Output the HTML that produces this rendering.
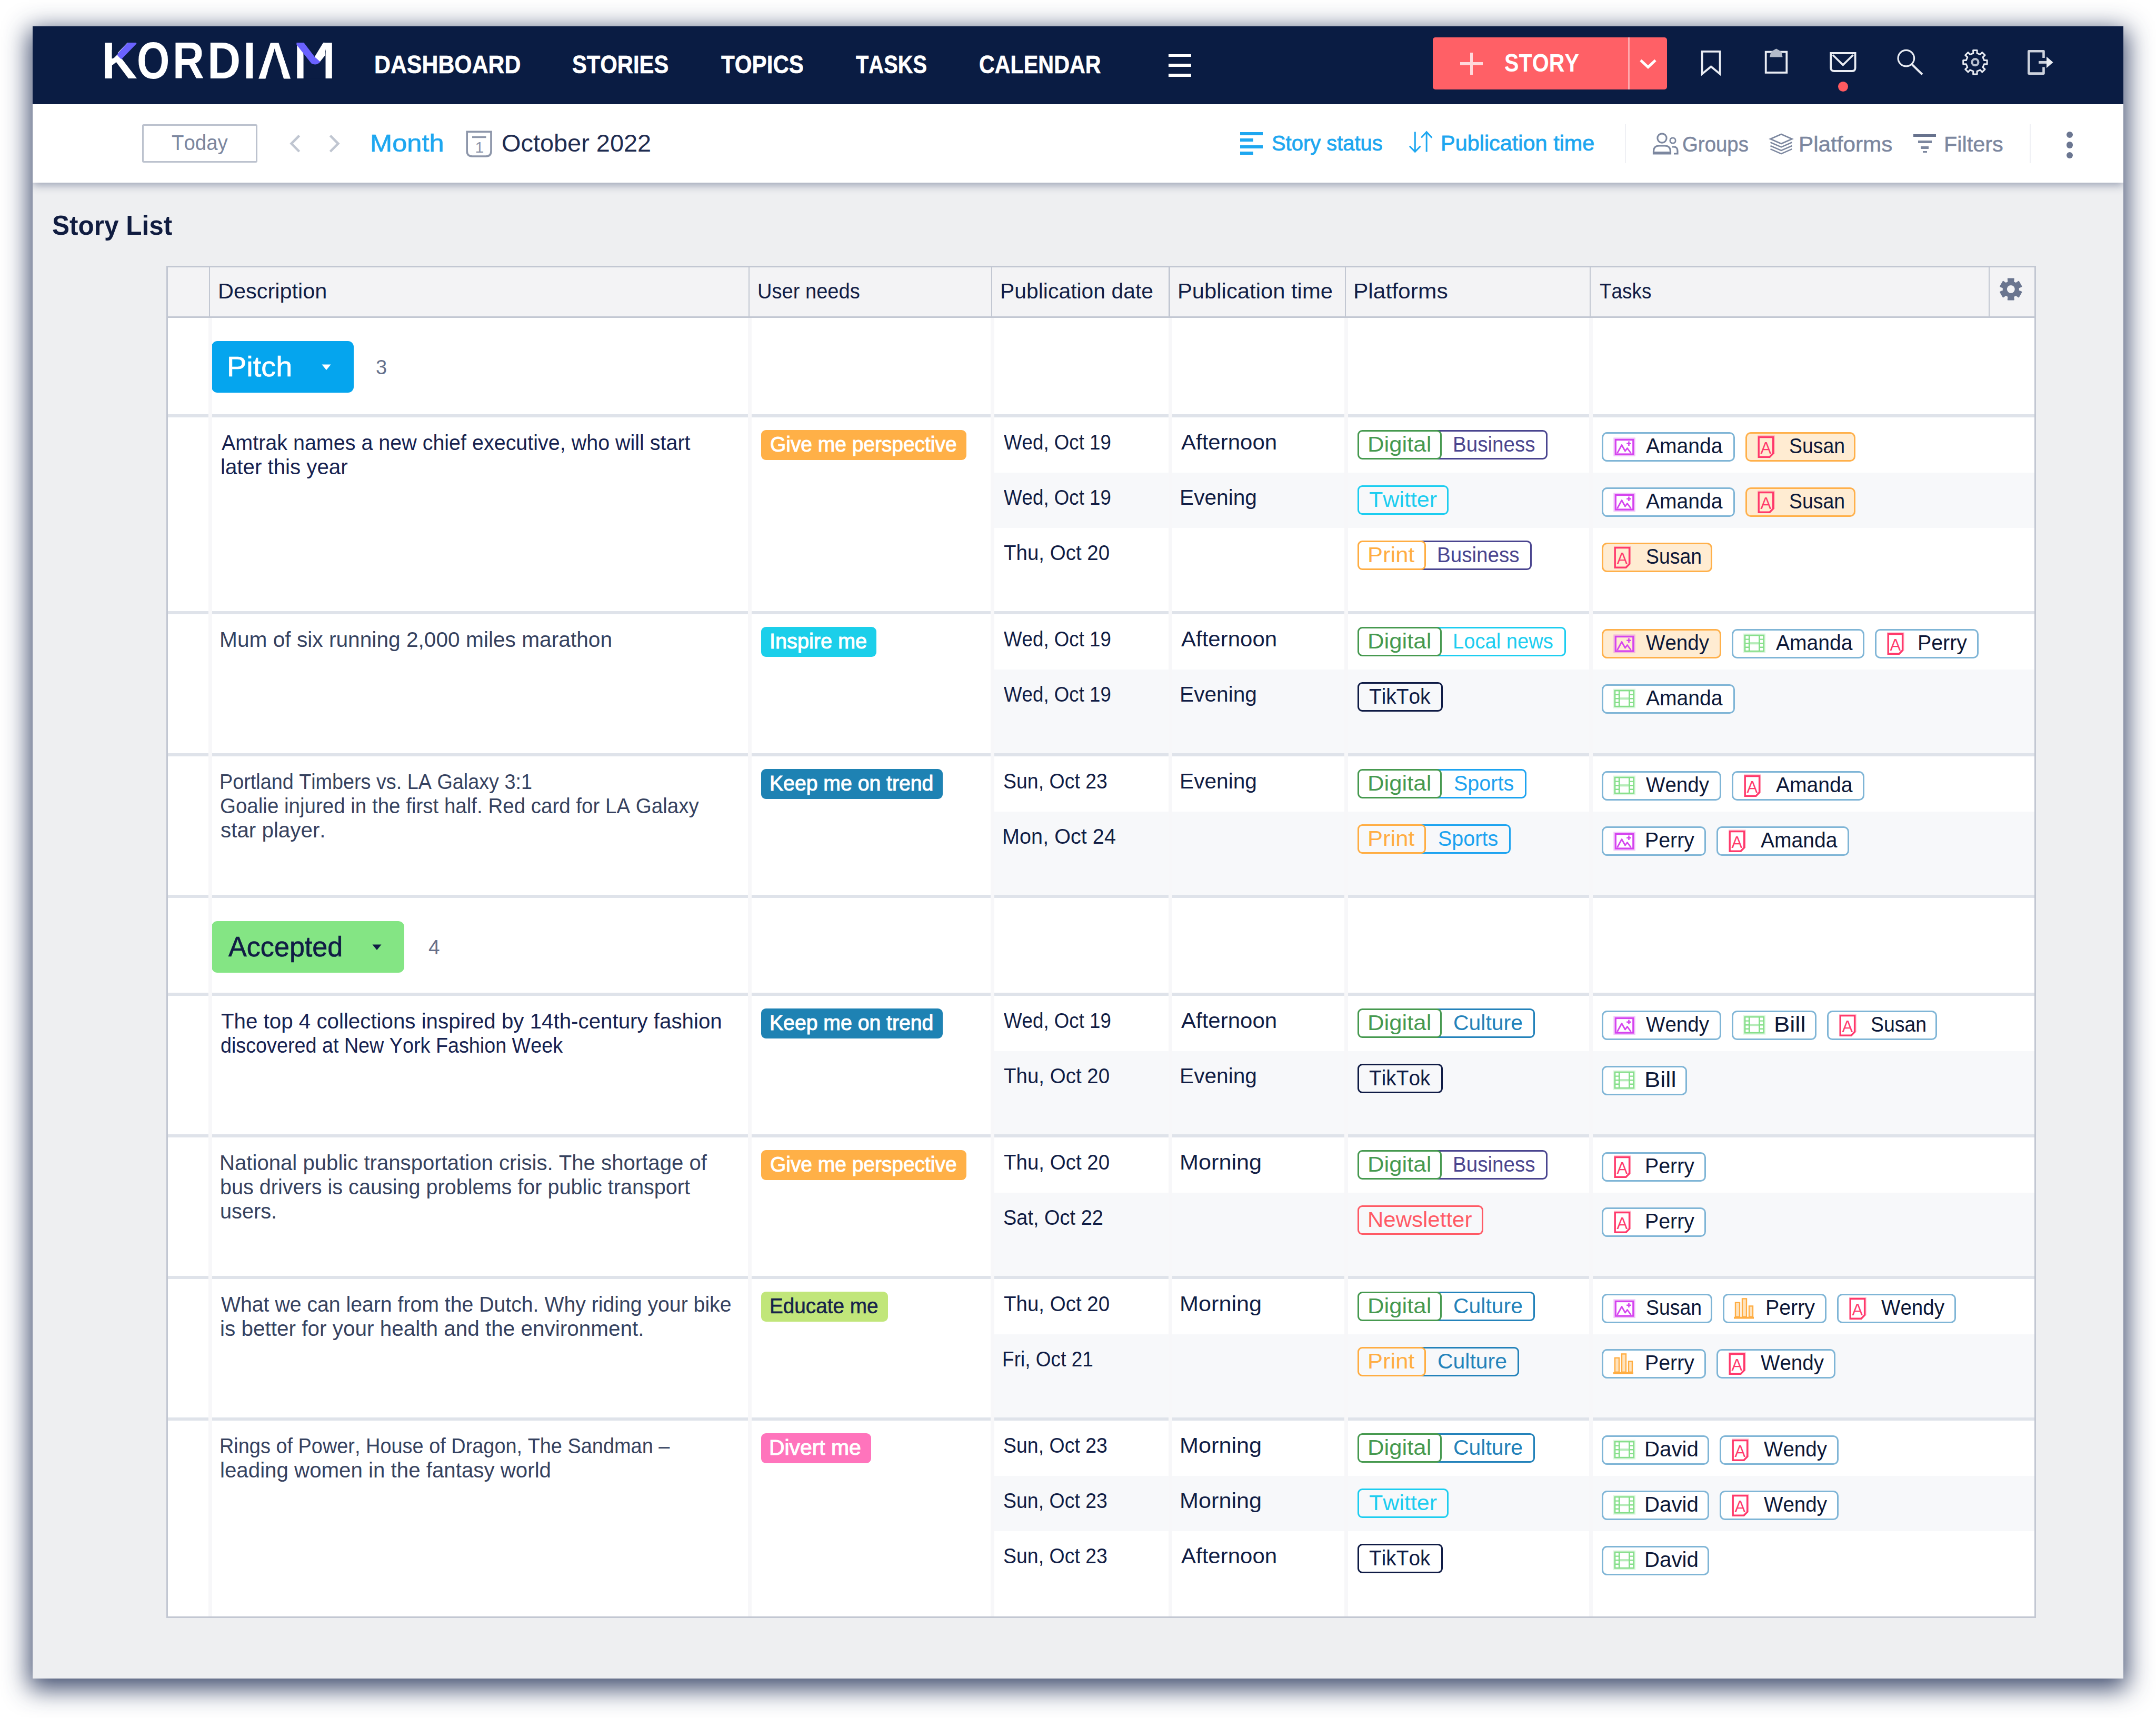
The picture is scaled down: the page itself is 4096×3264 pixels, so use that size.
<!DOCTYPE html>
<html lang="en"><head><meta charset="utf-8"><title>Kordiam Story List</title><style>
html,body{margin:0;padding:0}
body{width:4096px;height:3264px;background:#fff;position:relative;overflow:hidden;font-family:'Liberation Sans', sans-serif;font-kerning:none}
div,svg,span.t{position:absolute;box-sizing:border-box}
span.t{white-space:pre;line-height:1;transform-origin:0 0;display:block}
</style></head><body>
<div style="left:62.0px;top:50.0px;width:3972.0px;height:3139.0px;background:#eeeff1;box-shadow:0 13px 44px 7px rgba(30,45,85,.84);"></div>
<div style="left:62.0px;top:198.0px;width:3972.0px;height:149.2px;background:#fff;box-shadow:0 4px 16px rgba(40,55,95,.46);clip-path:inset(0 0 -40px 0);"></div>
<div style="left:62.0px;top:50.0px;width:3972.0px;height:148.0px;background:#0a1c43;"></div>
<div style="left:2220.3px;top:102.5px;width:43.0px;height:5.8px;background:#fff;"></div>
<div style="left:2220.3px;top:121.3px;width:43.0px;height:5.8px;background:#fff;"></div>
<div style="left:2220.3px;top:140.0px;width:43.0px;height:5.8px;background:#fff;"></div>
<div style="left:2721.7px;top:71.4px;width:445.3px;height:99.1px;background:#ff6066;border-radius:5px;"></div>
<div style="left:3093.0px;top:71.4px;width:3.0px;height:99.1px;background:#ffa9ad;"></div>
<div style="left:2774.3px;top:118.2px;width:42.7px;height:5.6px;background:#ffd9db;"></div>
<div style="left:2792.8px;top:99.5px;width:5.6px;height:42.9px;background:#ffd9db;"></div>
<svg style="left:3110.0px;top:108.0px" width="42.0" height="30.0" viewBox="0 0 42 30"><path d="M7 6.5 L21 19.5 L35 6.5" fill="none" stroke="#fff" stroke-width="5"/></svg>
<svg style="left:3225.0px;top:90.0px" width="50.0" height="58.0" viewBox="0 0 50 58"><path d="M8.7 7.9 H42.6 V50.5 L25.6 36.5 L8.7 50.5 Z" fill="none" stroke="#e9ecf3" stroke-width="3.8" stroke-linejoin="miter"/></svg>
<svg style="left:3347.0px;top:88.0px" width="56.0" height="58.0" viewBox="0 0 56 58"><rect x="7.7" y="10.6" width="39.6" height="39.3" fill="none" stroke="#e9ecf3" stroke-width="3.8"/><path d="M15 20.4 L17.5 10.5 L23 7 L27.5 4.6 L32 7 L37.5 10.5 L39.6 20.4 Z" fill="#b3bbca"/></svg>
<svg style="left:3470.0px;top:92.0px" width="64.0" height="52.0" viewBox="0 0 64 52"><path d="M8.2 9 H54.6 V37 Q54.6 43 48.6 43 H14.2 Q8.2 43 8.2 37 Z" fill="none" stroke="#e9ecf3" stroke-width="3.8"/><path d="M12 12.5 L31.3 31.4 L50.6 12.5" fill="none" stroke="#e9ecf3" stroke-width="3.6"/></svg>
<div style="left:3491.8px;top:155.3px;width:19.0px;height:19.0px;background:#ff5a60;border-radius:50%;"></div>
<svg style="left:3598.0px;top:88.0px" width="62.0" height="60.0" viewBox="0 0 62 60"><circle cx="23.3" cy="22.6" r="15.3" fill="none" stroke="#e9ecf3" stroke-width="3.2"/><path d="M34.5 34.5 L54 53.5" stroke="#e9ecf3" stroke-width="4"/></svg>
<svg style="left:3722.0px;top:88.0px" width="62.0" height="62.0" viewBox="0 0 62 62"><path d="M26.8 13.1 L26.6 7.5 L34.2 7.5 L34.0 13.1 L40.0 15.6 L43.8 11.5 L49.1 16.8 L45.0 20.6 L47.5 26.6 L53.1 26.4 L53.1 34.0 L47.5 33.8 L45.0 39.8 L49.1 43.6 L43.8 48.9 L40.0 44.8 L34.0 47.3 L34.2 52.9 L26.6 52.9 L26.8 47.3 L20.8 44.8 L17.0 48.9 L11.7 43.6 L15.8 39.8 L13.3 33.8 L7.7 34.0 L7.7 26.4 L13.3 26.6 L15.8 20.6 L11.7 16.8 L17.0 11.5 L20.8 15.6 Z" fill="none" stroke="#e9ecf3" stroke-width="3" stroke-linejoin="round"/><circle cx="30.4" cy="30.2" r="6" fill="none" stroke="#b7bfce" stroke-width="4.2"/></svg>
<svg style="left:3846.0px;top:88.0px" width="62.0" height="62.0" viewBox="0 0 62 62"><path d="M36.5 22 V9.2 H8.3 V51.6 H36.5 V39.5" fill="none" stroke="#cdd2dd" stroke-width="4.6" stroke-linejoin="round"/><path d="M27 30.4 H44" stroke="#cdd2dd" stroke-width="5"/><path d="M42 19.5 L54.5 30.4 L42 41.3 Z" fill="#e9ecf3"/></svg>
<div style="left:269.6px;top:235.7px;width:219.0px;height:73.0px;background:#fff;border:3px solid #bcc2ce;border-radius:3px;"></div>
<svg style="left:545.0px;top:250.0px" width="32.0" height="46.0" viewBox="0 0 32 46"><path d="M23.6 7.6 L8.6 22.8 L23.6 38" fill="none" stroke="#c0c6d1" stroke-width="4.6"/></svg>
<svg style="left:619.0px;top:250.0px" width="32.0" height="46.0" viewBox="0 0 32 46"><path d="M8.4 7.6 L23.4 22.8 L8.4 38" fill="none" stroke="#c0c6d1" stroke-width="4.6"/></svg>
<svg style="left:880.0px;top:243.0px" width="60.0" height="62.0" viewBox="0 0 60 62"><path d="M7.2 7.3 H53 V44 Q53 54 43 54 H17.2 Q7.2 54 7.2 44 Z" fill="none" stroke="#8d96aa" stroke-width="3.6"/><path d="M17 17.5 H43.5" stroke="#8d96aa" stroke-width="3.4"/><text x="30.8" y="46.8" font-family="Liberation Sans, sans-serif" font-size="30" fill="#8d96aa" text-anchor="middle">1</text></svg>
<div style="left:2356.2px;top:251.0px;width:42.8px;height:6.0px;background:#1ea7f0;"></div>
<div style="left:2356.2px;top:263.4px;width:25.0px;height:6.0px;background:#1ea7f0;"></div>
<div style="left:2356.2px;top:275.8px;width:42.8px;height:6.0px;background:#1ea7f0;"></div>
<div style="left:2356.2px;top:288.2px;width:25.0px;height:6.0px;background:#1ea7f0;"></div>
<svg style="left:2670.0px;top:244.0px" width="60.0" height="52.0" viewBox="0 0 60 52"><path d="M18.3 6.5 V43.5 M8 33.8 L18.3 44.4 L28.6 33.8" fill="none" stroke="#1ea7f0" stroke-width="3"/><path d="M40.2 44.4 V7.5 M30.2 17.6 L40.2 6.8 L50.4 17.6" fill="none" stroke="#1ea7f0" stroke-width="3"/></svg>
<div style="left:3087.0px;top:235.5px;width:2.2px;height:74.0px;background:#eff0f4;"></div>
<svg style="left:3134.0px;top:246.0px" width="62.0" height="54.0" viewBox="0 0 62 54"><circle cx="23.5" cy="16.5" r="8.6" fill="none" stroke="#7c879f" stroke-width="3.1"/><path d="M7.5 46 V42 Q7.5 31 18 31 H29 Q39.5 31 39.5 42 V46 Z" fill="none" stroke="#7c879f" stroke-width="3.2"/><path d="M7.5 44.5 H39.5" stroke="#7c879f" stroke-width="5"/><circle cx="44" cy="21" r="5.2" fill="none" stroke="#7c879f" stroke-width="2.8"/><path d="M43 33 H46 Q53 33 53 41 V46 H46" fill="none" stroke="#7c879f" stroke-width="3.2"/></svg>
<svg style="left:3356.0px;top:248.0px" width="56.0" height="50.0" viewBox="0 0 56 50"><path d="M28 7 L48.5 16 L28 25 L7.5 16 Z" fill="none" stroke="#7c879f" stroke-width="2.7"/><path d="M7.5 22.5 L28 31.5 L48.5 22.5 M7.5 29 L28 38 L48.5 29 M7.5 35.2 L28 44.2 L48.5 35.2" fill="none" stroke="#7c879f" stroke-width="2.5"/></svg>
<div style="left:3635.0px;top:254.5px;width:43.0px;height:5.0px;background:#67728d;"></div>
<div style="left:3643.5px;top:266.5px;width:26.0px;height:5.0px;background:#7c879f;"></div>
<div style="left:3649.0px;top:278.0px;width:15.0px;height:5.0px;background:#7c879f;"></div>
<div style="left:3653.0px;top:286.5px;width:7.5px;height:3.5px;background:#7c879f;"></div>
<div style="left:3855.5px;top:235.5px;width:2.2px;height:74.0px;background:#eff0f4;"></div>
<div style="left:3925.6px;top:249.6px;width:12.8px;height:12.8px;background:#6b7691;border-radius:50%;"></div>
<div style="left:3925.6px;top:269.2px;width:12.8px;height:12.8px;background:#6b7691;border-radius:50%;"></div>
<div style="left:3925.6px;top:288.6px;width:12.8px;height:12.8px;background:#6b7691;border-radius:50%;"></div>
<div style="left:316.0px;top:505.0px;width:3552.0px;height:2569.0px;background:#fff;"></div>
<div style="left:316.0px;top:505.0px;width:3552.0px;height:98.5px;background:#f3f3f5;"></div>
<div style="left:402.4px;top:647.6px;width:269.6px;height:98.8px;background:#05a5ee;border-radius:11px;"></div>
<svg style="left:609.0px;top:689.0px" width="24.0" height="18.0" viewBox="0 0 24 18"><path d="M2.5 3.5 H19.5 L11 14 Z" fill="#fff"/></svg>
<div style="left:316.0px;top:787.0px;width:3552.0px;height:6.0px;background:#dfe3ea;"></div>
<div style="left:1446.4px;top:817.4px;width:389.4px;height:56.4px;background:#ffb047;border-radius:9px;"></div>
<div style="left:2727.3px;top:817.4px;width:213.2px;height:56.0px;border:3px solid #4a458f;border-radius:0 9px 9px 0;border-left:none;"></div>
<div style="left:2579.3px;top:817.4px;width:160.0px;height:56.0px;background:#fff;border:3px solid #46994f;border-radius:9px;"></div>
<div style="left:3043.4px;top:820.8px;width:252.5px;height:55.8px;background:#fff;border:3px solid #7fb5d6;border-radius:10px;"></div>
<svg style="left:3063.4px;top:828.8px" width="48.0" height="44.0" viewBox="0 0 48 44"><rect x="6.3" y="6.4" width="33.6" height="27.7" fill="none" stroke="#d544ef" stroke-width="3.4"/><rect x="3.4" y="3.5" width="39.4" height="33.5" fill="none" stroke="#d544ef" stroke-opacity=".3" stroke-width="2.2"/><path d="M9.5 32 L18 16.5 L24.5 28 L28.5 22.5 L35.5 32" fill="none" stroke="#d544ef" stroke-width="2.8" stroke-linejoin="round"/><path d="M31.5 9.5 V18 M27.2 13.7 H35.8" stroke="#d544ef" stroke-width="2.6"/></svg>
<div style="left:3315.8px;top:820.8px;width:209.2px;height:55.8px;background:#ffecd2;border:3px solid #ffb04a;border-radius:10px;"></div>
<svg style="left:3334.8px;top:824.4px" width="44.0" height="50.0" viewBox="0 0 44 50"><path d="M6.2 6.6 H33.6 V37.5 L27 44.2 H6.2 Z" fill="none" stroke="#ff3a6c" stroke-width="3.4"/><path d="M4 4.3 H35.8 V38" fill="none" stroke="#ff3a6c" stroke-opacity=".3" stroke-width="2"/><text x="19.8" y="37.8" font-family="Liberation Sans, sans-serif" font-size="31" fill="#ff3a6c" text-anchor="middle">A</text></svg>
<div style="left:1888.3px;top:898.0px;width:1976.7px;height:105.0px;background:#f7f8fa;"></div>
<div style="left:2579.3px;top:922.4px;width:172.8px;height:56.0px;background:#f7f8fa;border:3px solid #1ccdf0;border-radius:9px;"></div>
<div style="left:3043.4px;top:925.8px;width:252.5px;height:55.8px;background:#fff;border:3px solid #7fb5d6;border-radius:10px;"></div>
<svg style="left:3063.4px;top:933.8px" width="48.0" height="44.0" viewBox="0 0 48 44"><rect x="6.3" y="6.4" width="33.6" height="27.7" fill="none" stroke="#d544ef" stroke-width="3.4"/><rect x="3.4" y="3.5" width="39.4" height="33.5" fill="none" stroke="#d544ef" stroke-opacity=".3" stroke-width="2.2"/><path d="M9.5 32 L18 16.5 L24.5 28 L28.5 22.5 L35.5 32" fill="none" stroke="#d544ef" stroke-width="2.8" stroke-linejoin="round"/><path d="M31.5 9.5 V18 M27.2 13.7 H35.8" stroke="#d544ef" stroke-width="2.6"/></svg>
<div style="left:3315.8px;top:925.8px;width:209.2px;height:55.8px;background:#ffecd2;border:3px solid #ffb04a;border-radius:10px;"></div>
<svg style="left:3334.8px;top:929.4px" width="44.0" height="50.0" viewBox="0 0 44 50"><path d="M6.2 6.6 H33.6 V37.5 L27 44.2 H6.2 Z" fill="none" stroke="#ff3a6c" stroke-width="3.4"/><path d="M4 4.3 H35.8 V38" fill="none" stroke="#ff3a6c" stroke-opacity=".3" stroke-width="2"/><text x="19.8" y="37.8" font-family="Liberation Sans, sans-serif" font-size="31" fill="#ff3a6c" text-anchor="middle">A</text></svg>
<div style="left:2697.3px;top:1027.4px;width:213.2px;height:56.0px;border:3px solid #4a458f;border-radius:0 9px 9px 0;border-left:none;"></div>
<div style="left:2579.3px;top:1027.4px;width:130.0px;height:56.0px;background:#fff;border:3px solid #ffad42;border-radius:9px;"></div>
<div style="left:3043.4px;top:1030.8px;width:209.2px;height:55.8px;background:#ffecd2;border:3px solid #ffb04a;border-radius:10px;"></div>
<svg style="left:3062.4px;top:1034.4px" width="44.0" height="50.0" viewBox="0 0 44 50"><path d="M6.2 6.6 H33.6 V37.5 L27 44.2 H6.2 Z" fill="none" stroke="#ff3a6c" stroke-width="3.4"/><path d="M4 4.3 H35.8 V38" fill="none" stroke="#ff3a6c" stroke-opacity=".3" stroke-width="2"/><text x="19.8" y="37.8" font-family="Liberation Sans, sans-serif" font-size="31" fill="#ff3a6c" text-anchor="middle">A</text></svg>
<div style="left:316.0px;top:1161.0px;width:3552.0px;height:6.0px;background:#dfe3ea;"></div>
<div style="left:1446.4px;top:1191.4px;width:218.9px;height:56.4px;background:#1bcfea;border-radius:9px;"></div>
<div style="left:2727.3px;top:1191.4px;width:247.5px;height:56.0px;border:3px solid #1ccdf0;border-radius:0 9px 9px 0;border-left:none;"></div>
<div style="left:2579.3px;top:1191.4px;width:160.0px;height:56.0px;background:#fff;border:3px solid #46994f;border-radius:9px;"></div>
<div style="left:3043.4px;top:1194.8px;width:226.2px;height:55.8px;background:#ffecd2;border:3px solid #ffb04a;border-radius:10px;"></div>
<svg style="left:3063.4px;top:1202.8px" width="48.0" height="44.0" viewBox="0 0 48 44"><rect x="6.3" y="6.4" width="33.6" height="27.7" fill="none" stroke="#d544ef" stroke-width="3.4"/><rect x="3.4" y="3.5" width="39.4" height="33.5" fill="none" stroke="#d544ef" stroke-opacity=".3" stroke-width="2.2"/><path d="M9.5 32 L18 16.5 L24.5 28 L28.5 22.5 L35.5 32" fill="none" stroke="#d544ef" stroke-width="2.8" stroke-linejoin="round"/><path d="M31.5 9.5 V18 M27.2 13.7 H35.8" stroke="#d544ef" stroke-width="2.6"/></svg>
<div style="left:3289.5px;top:1194.8px;width:252.5px;height:55.8px;background:#fff;border:3px solid #7fb5d6;border-radius:10px;"></div>
<svg style="left:3309.5px;top:1202.1px" width="48.0" height="44.0" viewBox="0 0 48 44"><rect x="5" y="5" width="35.8" height="30.2" fill="none" stroke="#86df8a" stroke-width="2.8"/><rect x="2.6" y="2.6" width="40.6" height="35.1" fill="none" stroke="#86df8a" stroke-opacity=".25" stroke-width="2"/><path d="M13.3 5 V35 M32.5 5 V35" stroke="#86df8a" stroke-width="2.8"/><path d="M13.3 20.2 H32.5" stroke="#86df8a" stroke-width="4.2" stroke-opacity=".6"/><path d="M5 12.6 H13.3 M5 20.2 H13.3 M5 27.8 H13.3 M32.5 12.6 H41 M32.5 20.2 H41 M32.5 27.8 H41" stroke="#86df8a" stroke-width="2.4"/></svg>
<div style="left:3561.9px;top:1194.8px;width:197.2px;height:55.8px;background:#fff;border:3px solid #7fb5d6;border-radius:10px;"></div>
<svg style="left:3580.9px;top:1198.4px" width="44.0" height="50.0" viewBox="0 0 44 50"><path d="M6.2 6.6 H33.6 V37.5 L27 44.2 H6.2 Z" fill="none" stroke="#ff3a6c" stroke-width="3.4"/><path d="M4 4.3 H35.8 V38" fill="none" stroke="#ff3a6c" stroke-opacity=".3" stroke-width="2"/><text x="19.8" y="37.8" font-family="Liberation Sans, sans-serif" font-size="31" fill="#ff3a6c" text-anchor="middle">A</text></svg>
<div style="left:1888.3px;top:1272.0px;width:1976.7px;height:159.0px;background:#f7f8fa;"></div>
<div style="left:2579.3px;top:1296.4px;width:161.5px;height:56.0px;background:#f7f8fa;border:3px solid #0f1b45;border-radius:9px;"></div>
<div style="left:3043.4px;top:1299.8px;width:252.5px;height:55.8px;background:#fff;border:3px solid #7fb5d6;border-radius:10px;"></div>
<svg style="left:3063.4px;top:1307.1px" width="48.0" height="44.0" viewBox="0 0 48 44"><rect x="5" y="5" width="35.8" height="30.2" fill="none" stroke="#86df8a" stroke-width="2.8"/><rect x="2.6" y="2.6" width="40.6" height="35.1" fill="none" stroke="#86df8a" stroke-opacity=".25" stroke-width="2"/><path d="M13.3 5 V35 M32.5 5 V35" stroke="#86df8a" stroke-width="2.8"/><path d="M13.3 20.2 H32.5" stroke="#86df8a" stroke-width="4.2" stroke-opacity=".6"/><path d="M5 12.6 H13.3 M5 20.2 H13.3 M5 27.8 H13.3 M32.5 12.6 H41 M32.5 20.2 H41 M32.5 27.8 H41" stroke="#86df8a" stroke-width="2.4"/></svg>
<div style="left:316.0px;top:1431.0px;width:3552.0px;height:6.0px;background:#dfe3ea;"></div>
<div style="left:1446.4px;top:1461.4px;width:344.2px;height:56.4px;background:#1e82b3;border-radius:9px;"></div>
<div style="left:2727.3px;top:1461.4px;width:172.7px;height:56.0px;border:3px solid #1ca3f0;border-radius:0 9px 9px 0;border-left:none;"></div>
<div style="left:2579.3px;top:1461.4px;width:160.0px;height:56.0px;background:#fff;border:3px solid #46994f;border-radius:9px;"></div>
<div style="left:3043.4px;top:1464.8px;width:226.2px;height:55.8px;background:#fff;border:3px solid #7fb5d6;border-radius:10px;"></div>
<svg style="left:3063.4px;top:1472.1px" width="48.0" height="44.0" viewBox="0 0 48 44"><rect x="5" y="5" width="35.8" height="30.2" fill="none" stroke="#86df8a" stroke-width="2.8"/><rect x="2.6" y="2.6" width="40.6" height="35.1" fill="none" stroke="#86df8a" stroke-opacity=".25" stroke-width="2"/><path d="M13.3 5 V35 M32.5 5 V35" stroke="#86df8a" stroke-width="2.8"/><path d="M13.3 20.2 H32.5" stroke="#86df8a" stroke-width="4.2" stroke-opacity=".6"/><path d="M5 12.6 H13.3 M5 20.2 H13.3 M5 27.8 H13.3 M32.5 12.6 H41 M32.5 20.2 H41 M32.5 27.8 H41" stroke="#86df8a" stroke-width="2.4"/></svg>
<div style="left:3289.5px;top:1464.8px;width:252.5px;height:55.8px;background:#fff;border:3px solid #7fb5d6;border-radius:10px;"></div>
<svg style="left:3308.5px;top:1468.4px" width="44.0" height="50.0" viewBox="0 0 44 50"><path d="M6.2 6.6 H33.6 V37.5 L27 44.2 H6.2 Z" fill="none" stroke="#ff3a6c" stroke-width="3.4"/><path d="M4 4.3 H35.8 V38" fill="none" stroke="#ff3a6c" stroke-opacity=".3" stroke-width="2"/><text x="19.8" y="37.8" font-family="Liberation Sans, sans-serif" font-size="31" fill="#ff3a6c" text-anchor="middle">A</text></svg>
<div style="left:1888.3px;top:1542.0px;width:1976.7px;height:158.0px;background:#f7f8fa;"></div>
<div style="left:2697.3px;top:1566.4px;width:172.7px;height:56.0px;border:3px solid #1ca3f0;border-radius:0 9px 9px 0;border-left:none;"></div>
<div style="left:2579.3px;top:1566.4px;width:130.0px;height:56.0px;background:#f7f8fa;border:3px solid #ffad42;border-radius:9px;"></div>
<div style="left:3043.4px;top:1569.8px;width:197.2px;height:55.8px;background:#fff;border:3px solid #7fb5d6;border-radius:10px;"></div>
<svg style="left:3063.4px;top:1577.8px" width="48.0" height="44.0" viewBox="0 0 48 44"><rect x="6.3" y="6.4" width="33.6" height="27.7" fill="none" stroke="#d544ef" stroke-width="3.4"/><rect x="3.4" y="3.5" width="39.4" height="33.5" fill="none" stroke="#d544ef" stroke-opacity=".3" stroke-width="2.2"/><path d="M9.5 32 L18 16.5 L24.5 28 L28.5 22.5 L35.5 32" fill="none" stroke="#d544ef" stroke-width="2.8" stroke-linejoin="round"/><path d="M31.5 9.5 V18 M27.2 13.7 H35.8" stroke="#d544ef" stroke-width="2.6"/></svg>
<div style="left:3260.5px;top:1569.8px;width:252.5px;height:55.8px;background:#fff;border:3px solid #7fb5d6;border-radius:10px;"></div>
<svg style="left:3279.5px;top:1573.4px" width="44.0" height="50.0" viewBox="0 0 44 50"><path d="M6.2 6.6 H33.6 V37.5 L27 44.2 H6.2 Z" fill="none" stroke="#ff3a6c" stroke-width="3.4"/><path d="M4 4.3 H35.8 V38" fill="none" stroke="#ff3a6c" stroke-opacity=".3" stroke-width="2"/><text x="19.8" y="37.8" font-family="Liberation Sans, sans-serif" font-size="31" fill="#ff3a6c" text-anchor="middle">A</text></svg>
<div style="left:316.0px;top:1700.0px;width:3552.0px;height:6.0px;background:#dfe3ea;"></div>
<div style="left:402.4px;top:1749.6px;width:365.6px;height:98.8px;background:#84e584;border-radius:11px;"></div>
<svg style="left:705.0px;top:1791.0px" width="24.0" height="18.0" viewBox="0 0 24 18"><path d="M2.5 3.5 H19.5 L11 14 Z" fill="#111d45"/></svg>
<div style="left:316.0px;top:1886.0px;width:3552.0px;height:6.0px;background:#dfe3ea;"></div>
<div style="left:1446.4px;top:1916.4px;width:344.2px;height:56.4px;background:#1e82b3;border-radius:9px;"></div>
<div style="left:2727.3px;top:1916.4px;width:189.2px;height:56.0px;border:3px solid #2382ba;border-radius:0 9px 9px 0;border-left:none;"></div>
<div style="left:2579.3px;top:1916.4px;width:160.0px;height:56.0px;background:#fff;border:3px solid #46994f;border-radius:9px;"></div>
<div style="left:3043.4px;top:1919.8px;width:226.2px;height:55.8px;background:#fff;border:3px solid #7fb5d6;border-radius:10px;"></div>
<svg style="left:3063.4px;top:1927.8px" width="48.0" height="44.0" viewBox="0 0 48 44"><rect x="6.3" y="6.4" width="33.6" height="27.7" fill="none" stroke="#d544ef" stroke-width="3.4"/><rect x="3.4" y="3.5" width="39.4" height="33.5" fill="none" stroke="#d544ef" stroke-opacity=".3" stroke-width="2.2"/><path d="M9.5 32 L18 16.5 L24.5 28 L28.5 22.5 L35.5 32" fill="none" stroke="#d544ef" stroke-width="2.8" stroke-linejoin="round"/><path d="M31.5 9.5 V18 M27.2 13.7 H35.8" stroke="#d544ef" stroke-width="2.6"/></svg>
<div style="left:3289.5px;top:1919.8px;width:161.2px;height:55.8px;background:#fff;border:3px solid #7fb5d6;border-radius:10px;"></div>
<svg style="left:3309.5px;top:1927.1px" width="48.0" height="44.0" viewBox="0 0 48 44"><rect x="5" y="5" width="35.8" height="30.2" fill="none" stroke="#86df8a" stroke-width="2.8"/><rect x="2.6" y="2.6" width="40.6" height="35.1" fill="none" stroke="#86df8a" stroke-opacity=".25" stroke-width="2"/><path d="M13.3 5 V35 M32.5 5 V35" stroke="#86df8a" stroke-width="2.8"/><path d="M13.3 20.2 H32.5" stroke="#86df8a" stroke-width="4.2" stroke-opacity=".6"/><path d="M5 12.6 H13.3 M5 20.2 H13.3 M5 27.8 H13.3 M32.5 12.6 H41 M32.5 20.2 H41 M32.5 27.8 H41" stroke="#86df8a" stroke-width="2.4"/></svg>
<div style="left:3470.6px;top:1919.8px;width:209.2px;height:55.8px;background:#fff;border:3px solid #7fb5d6;border-radius:10px;"></div>
<svg style="left:3489.6px;top:1923.4px" width="44.0" height="50.0" viewBox="0 0 44 50"><path d="M6.2 6.6 H33.6 V37.5 L27 44.2 H6.2 Z" fill="none" stroke="#ff3a6c" stroke-width="3.4"/><path d="M4 4.3 H35.8 V38" fill="none" stroke="#ff3a6c" stroke-opacity=".3" stroke-width="2"/><text x="19.8" y="37.8" font-family="Liberation Sans, sans-serif" font-size="31" fill="#ff3a6c" text-anchor="middle">A</text></svg>
<div style="left:1888.3px;top:1997.0px;width:1976.7px;height:158.0px;background:#f7f8fa;"></div>
<div style="left:2579.3px;top:2021.4px;width:161.5px;height:56.0px;background:#f7f8fa;border:3px solid #0f1b45;border-radius:9px;"></div>
<div style="left:3043.4px;top:2024.8px;width:161.2px;height:55.8px;background:#fff;border:3px solid #7fb5d6;border-radius:10px;"></div>
<svg style="left:3063.4px;top:2032.1px" width="48.0" height="44.0" viewBox="0 0 48 44"><rect x="5" y="5" width="35.8" height="30.2" fill="none" stroke="#86df8a" stroke-width="2.8"/><rect x="2.6" y="2.6" width="40.6" height="35.1" fill="none" stroke="#86df8a" stroke-opacity=".25" stroke-width="2"/><path d="M13.3 5 V35 M32.5 5 V35" stroke="#86df8a" stroke-width="2.8"/><path d="M13.3 20.2 H32.5" stroke="#86df8a" stroke-width="4.2" stroke-opacity=".6"/><path d="M5 12.6 H13.3 M5 20.2 H13.3 M5 27.8 H13.3 M32.5 12.6 H41 M32.5 20.2 H41 M32.5 27.8 H41" stroke="#86df8a" stroke-width="2.4"/></svg>
<div style="left:316.0px;top:2155.0px;width:3552.0px;height:6.0px;background:#dfe3ea;"></div>
<div style="left:1446.4px;top:2185.4px;width:389.4px;height:56.4px;background:#ffb047;border-radius:9px;"></div>
<div style="left:2727.3px;top:2185.4px;width:213.2px;height:56.0px;border:3px solid #4a458f;border-radius:0 9px 9px 0;border-left:none;"></div>
<div style="left:2579.3px;top:2185.4px;width:160.0px;height:56.0px;background:#fff;border:3px solid #46994f;border-radius:9px;"></div>
<div style="left:3043.4px;top:2188.8px;width:197.2px;height:55.8px;background:#fff;border:3px solid #7fb5d6;border-radius:10px;"></div>
<svg style="left:3062.4px;top:2192.4px" width="44.0" height="50.0" viewBox="0 0 44 50"><path d="M6.2 6.6 H33.6 V37.5 L27 44.2 H6.2 Z" fill="none" stroke="#ff3a6c" stroke-width="3.4"/><path d="M4 4.3 H35.8 V38" fill="none" stroke="#ff3a6c" stroke-opacity=".3" stroke-width="2"/><text x="19.8" y="37.8" font-family="Liberation Sans, sans-serif" font-size="31" fill="#ff3a6c" text-anchor="middle">A</text></svg>
<div style="left:1888.3px;top:2266.0px;width:1976.7px;height:158.0px;background:#f7f8fa;"></div>
<div style="left:2579.3px;top:2290.4px;width:238.9px;height:56.0px;background:#f7f8fa;border:3px solid #ff5a65;border-radius:9px;"></div>
<div style="left:3043.4px;top:2293.8px;width:197.2px;height:55.8px;background:#fff;border:3px solid #7fb5d6;border-radius:10px;"></div>
<svg style="left:3062.4px;top:2297.4px" width="44.0" height="50.0" viewBox="0 0 44 50"><path d="M6.2 6.6 H33.6 V37.5 L27 44.2 H6.2 Z" fill="none" stroke="#ff3a6c" stroke-width="3.4"/><path d="M4 4.3 H35.8 V38" fill="none" stroke="#ff3a6c" stroke-opacity=".3" stroke-width="2"/><text x="19.8" y="37.8" font-family="Liberation Sans, sans-serif" font-size="31" fill="#ff3a6c" text-anchor="middle">A</text></svg>
<div style="left:316.0px;top:2424.0px;width:3552.0px;height:6.0px;background:#dfe3ea;"></div>
<div style="left:1446.4px;top:2454.4px;width:240.4px;height:56.4px;background:#c1e67a;border-radius:9px;"></div>
<div style="left:2727.3px;top:2454.4px;width:189.2px;height:56.0px;border:3px solid #2382ba;border-radius:0 9px 9px 0;border-left:none;"></div>
<div style="left:2579.3px;top:2454.4px;width:160.0px;height:56.0px;background:#fff;border:3px solid #46994f;border-radius:9px;"></div>
<div style="left:3043.4px;top:2457.8px;width:209.2px;height:55.8px;background:#fff;border:3px solid #7fb5d6;border-radius:10px;"></div>
<svg style="left:3063.4px;top:2465.8px" width="48.0" height="44.0" viewBox="0 0 48 44"><rect x="6.3" y="6.4" width="33.6" height="27.7" fill="none" stroke="#d544ef" stroke-width="3.4"/><rect x="3.4" y="3.5" width="39.4" height="33.5" fill="none" stroke="#d544ef" stroke-opacity=".3" stroke-width="2.2"/><path d="M9.5 32 L18 16.5 L24.5 28 L28.5 22.5 L35.5 32" fill="none" stroke="#d544ef" stroke-width="2.8" stroke-linejoin="round"/><path d="M31.5 9.5 V18 M27.2 13.7 H35.8" stroke="#d544ef" stroke-width="2.6"/></svg>
<div style="left:3272.5px;top:2457.8px;width:197.2px;height:55.8px;background:#fff;border:3px solid #7fb5d6;border-radius:10px;"></div>
<svg style="left:3290.1px;top:2461.4px" width="50.0" height="50.0" viewBox="0 0 50 50"><rect x="7" y="13.8" width="8" height="27" fill="#ffe3bd" stroke="#ffad42" stroke-width="2.4"/><rect x="20" y="6.4" width="8" height="34.4" fill="#ffe3bd" stroke="#ffad42" stroke-width="2.4"/><rect x="33" y="20.4" width="7" height="20.4" fill="#ffe3bd" stroke="#ffad42" stroke-width="2.4"/><path d="M4 42.6 H42" stroke="#ffad42" stroke-width="3.6"/></svg>
<div style="left:3489.6px;top:2457.8px;width:226.2px;height:55.8px;background:#fff;border:3px solid #7fb5d6;border-radius:10px;"></div>
<svg style="left:3508.6px;top:2461.4px" width="44.0" height="50.0" viewBox="0 0 44 50"><path d="M6.2 6.6 H33.6 V37.5 L27 44.2 H6.2 Z" fill="none" stroke="#ff3a6c" stroke-width="3.4"/><path d="M4 4.3 H35.8 V38" fill="none" stroke="#ff3a6c" stroke-opacity=".3" stroke-width="2"/><text x="19.8" y="37.8" font-family="Liberation Sans, sans-serif" font-size="31" fill="#ff3a6c" text-anchor="middle">A</text></svg>
<div style="left:1888.3px;top:2535.0px;width:1976.7px;height:158.0px;background:#f7f8fa;"></div>
<div style="left:2697.3px;top:2559.4px;width:189.2px;height:56.0px;border:3px solid #2382ba;border-radius:0 9px 9px 0;border-left:none;"></div>
<div style="left:2579.3px;top:2559.4px;width:130.0px;height:56.0px;background:#f7f8fa;border:3px solid #ffad42;border-radius:9px;"></div>
<div style="left:3043.4px;top:2562.8px;width:197.2px;height:55.8px;background:#fff;border:3px solid #7fb5d6;border-radius:10px;"></div>
<svg style="left:3061.0px;top:2566.4px" width="50.0" height="50.0" viewBox="0 0 50 50"><rect x="7" y="13.8" width="8" height="27" fill="#ffe3bd" stroke="#ffad42" stroke-width="2.4"/><rect x="20" y="6.4" width="8" height="34.4" fill="#ffe3bd" stroke="#ffad42" stroke-width="2.4"/><rect x="33" y="20.4" width="7" height="20.4" fill="#ffe3bd" stroke="#ffad42" stroke-width="2.4"/><path d="M4 42.6 H42" stroke="#ffad42" stroke-width="3.6"/></svg>
<div style="left:3260.5px;top:2562.8px;width:226.2px;height:55.8px;background:#fff;border:3px solid #7fb5d6;border-radius:10px;"></div>
<svg style="left:3279.5px;top:2566.4px" width="44.0" height="50.0" viewBox="0 0 44 50"><path d="M6.2 6.6 H33.6 V37.5 L27 44.2 H6.2 Z" fill="none" stroke="#ff3a6c" stroke-width="3.4"/><path d="M4 4.3 H35.8 V38" fill="none" stroke="#ff3a6c" stroke-opacity=".3" stroke-width="2"/><text x="19.8" y="37.8" font-family="Liberation Sans, sans-serif" font-size="31" fill="#ff3a6c" text-anchor="middle">A</text></svg>
<div style="left:316.0px;top:2693.0px;width:3552.0px;height:6.0px;background:#dfe3ea;"></div>
<div style="left:1446.4px;top:2723.4px;width:208.4px;height:56.4px;background:#ff74bc;border-radius:9px;"></div>
<div style="left:2727.3px;top:2723.4px;width:189.2px;height:56.0px;border:3px solid #2382ba;border-radius:0 9px 9px 0;border-left:none;"></div>
<div style="left:2579.3px;top:2723.4px;width:160.0px;height:56.0px;background:#fff;border:3px solid #46994f;border-radius:9px;"></div>
<div style="left:3043.4px;top:2726.8px;width:203.8px;height:55.8px;background:#fff;border:3px solid #7fb5d6;border-radius:10px;"></div>
<svg style="left:3063.4px;top:2734.1px" width="48.0" height="44.0" viewBox="0 0 48 44"><rect x="5" y="5" width="35.8" height="30.2" fill="none" stroke="#86df8a" stroke-width="2.8"/><rect x="2.6" y="2.6" width="40.6" height="35.1" fill="none" stroke="#86df8a" stroke-opacity=".25" stroke-width="2"/><path d="M13.3 5 V35 M32.5 5 V35" stroke="#86df8a" stroke-width="2.8"/><path d="M13.3 20.2 H32.5" stroke="#86df8a" stroke-width="4.2" stroke-opacity=".6"/><path d="M5 12.6 H13.3 M5 20.2 H13.3 M5 27.8 H13.3 M32.5 12.6 H41 M32.5 20.2 H41 M32.5 27.8 H41" stroke="#86df8a" stroke-width="2.4"/></svg>
<div style="left:3267.1px;top:2726.8px;width:226.2px;height:55.8px;background:#fff;border:3px solid #7fb5d6;border-radius:10px;"></div>
<svg style="left:3286.1px;top:2730.4px" width="44.0" height="50.0" viewBox="0 0 44 50"><path d="M6.2 6.6 H33.6 V37.5 L27 44.2 H6.2 Z" fill="none" stroke="#ff3a6c" stroke-width="3.4"/><path d="M4 4.3 H35.8 V38" fill="none" stroke="#ff3a6c" stroke-opacity=".3" stroke-width="2"/><text x="19.8" y="37.8" font-family="Liberation Sans, sans-serif" font-size="31" fill="#ff3a6c" text-anchor="middle">A</text></svg>
<div style="left:1888.3px;top:2804.0px;width:1976.7px;height:105.0px;background:#f7f8fa;"></div>
<div style="left:2579.3px;top:2828.4px;width:172.8px;height:56.0px;background:#f7f8fa;border:3px solid #1ccdf0;border-radius:9px;"></div>
<div style="left:3043.4px;top:2831.8px;width:203.8px;height:55.8px;background:#fff;border:3px solid #7fb5d6;border-radius:10px;"></div>
<svg style="left:3063.4px;top:2839.1px" width="48.0" height="44.0" viewBox="0 0 48 44"><rect x="5" y="5" width="35.8" height="30.2" fill="none" stroke="#86df8a" stroke-width="2.8"/><rect x="2.6" y="2.6" width="40.6" height="35.1" fill="none" stroke="#86df8a" stroke-opacity=".25" stroke-width="2"/><path d="M13.3 5 V35 M32.5 5 V35" stroke="#86df8a" stroke-width="2.8"/><path d="M13.3 20.2 H32.5" stroke="#86df8a" stroke-width="4.2" stroke-opacity=".6"/><path d="M5 12.6 H13.3 M5 20.2 H13.3 M5 27.8 H13.3 M32.5 12.6 H41 M32.5 20.2 H41 M32.5 27.8 H41" stroke="#86df8a" stroke-width="2.4"/></svg>
<div style="left:3267.1px;top:2831.8px;width:226.2px;height:55.8px;background:#fff;border:3px solid #7fb5d6;border-radius:10px;"></div>
<svg style="left:3286.1px;top:2835.4px" width="44.0" height="50.0" viewBox="0 0 44 50"><path d="M6.2 6.6 H33.6 V37.5 L27 44.2 H6.2 Z" fill="none" stroke="#ff3a6c" stroke-width="3.4"/><path d="M4 4.3 H35.8 V38" fill="none" stroke="#ff3a6c" stroke-opacity=".3" stroke-width="2"/><text x="19.8" y="37.8" font-family="Liberation Sans, sans-serif" font-size="31" fill="#ff3a6c" text-anchor="middle">A</text></svg>
<div style="left:2579.3px;top:2933.4px;width:161.5px;height:56.0px;background:#fff;border:3px solid #0f1b45;border-radius:9px;"></div>
<div style="left:3043.4px;top:2936.8px;width:203.8px;height:55.8px;background:#fff;border:3px solid #7fb5d6;border-radius:10px;"></div>
<svg style="left:3063.4px;top:2944.1px" width="48.0" height="44.0" viewBox="0 0 48 44"><rect x="5" y="5" width="35.8" height="30.2" fill="none" stroke="#86df8a" stroke-width="2.8"/><rect x="2.6" y="2.6" width="40.6" height="35.1" fill="none" stroke="#86df8a" stroke-opacity=".25" stroke-width="2"/><path d="M13.3 5 V35 M32.5 5 V35" stroke="#86df8a" stroke-width="2.8"/><path d="M13.3 20.2 H32.5" stroke="#86df8a" stroke-width="4.2" stroke-opacity=".6"/><path d="M5 12.6 H13.3 M5 20.2 H13.3 M5 27.8 H13.3 M32.5 12.6 H41 M32.5 20.2 H41 M32.5 27.8 H41" stroke="#86df8a" stroke-width="2.4"/></svg>
<div style="left:396.2px;top:604.0px;width:6.6px;height:2467.0px;background:#f7f7f9;"></div>
<div style="left:1421.2px;top:604.0px;width:6.6px;height:2467.0px;background:#f7f7f9;"></div>
<div style="left:1882.2px;top:604.0px;width:6.6px;height:2467.0px;background:#f7f7f9;"></div>
<div style="left:2220.0px;top:604.0px;width:6.6px;height:2467.0px;background:#f7f7f9;"></div>
<div style="left:2554.2px;top:604.0px;width:6.6px;height:2467.0px;background:#f7f7f9;"></div>
<div style="left:3019.2px;top:604.0px;width:6.6px;height:2467.0px;background:#f7f7f9;"></div>
<div style="left:316.0px;top:505.0px;width:3552.0px;height:3.0px;background:#c2c7d2;"></div>
<div style="left:316.0px;top:601.0px;width:3552.0px;height:3.0px;background:#c2c7d2;"></div>
<div style="left:316.0px;top:505.0px;width:3.0px;height:2569.0px;background:#c2c7d2;"></div>
<div style="left:3865.0px;top:505.0px;width:3.0px;height:2569.0px;background:#c2c7d2;"></div>
<div style="left:316.0px;top:3071.0px;width:3552.0px;height:3.0px;background:#c2c7d2;"></div>
<div style="left:396.5px;top:505.0px;width:2.6px;height:98.0px;background:#c2c7d2;"></div>
<div style="left:1421.5px;top:505.0px;width:2.6px;height:98.0px;background:#c2c7d2;"></div>
<div style="left:1882.5px;top:505.0px;width:2.6px;height:98.0px;background:#c2c7d2;"></div>
<div style="left:2220.3px;top:505.0px;width:2.6px;height:98.0px;background:#c2c7d2;"></div>
<div style="left:2554.5px;top:505.0px;width:2.6px;height:98.0px;background:#c2c7d2;"></div>
<div style="left:3019.5px;top:505.0px;width:2.6px;height:98.0px;background:#c2c7d2;"></div>
<div style="left:3777.5px;top:505.0px;width:2.6px;height:98.0px;background:#c2c7d2;"></div>
<svg style="left:3794.0px;top:523.0px" width="54.0" height="54.0" viewBox="0 0 54 54"><path d="M21.6 12.7 L21.0 6.6 L31.6 6.6 L31.0 12.7 L35.9 15.5 L40.9 11.9 L46.2 21.2 L40.6 23.7 L40.6 29.3 L46.2 31.8 L40.9 41.1 L35.9 37.5 L31.0 40.3 L31.6 46.4 L21.0 46.4 L21.6 40.3 L16.7 37.5 L11.7 41.1 L6.4 31.8 L12.0 29.3 L12.0 23.7 L6.4 21.2 L11.7 11.9 L16.7 15.5 Z" fill="#6a758f" stroke="#6a758f" stroke-width="2.4" stroke-linejoin="round"/><circle cx="26.3" cy="26.5" r="7.4" fill="#f3f3f5"/></svg>
<span class="t" style="left:193.2px;top:65.6px;font-size:98px;color:#fff;transform:scaleX(0.9594);font-weight:700;">K</span>
<span class="t" style="left:260.3px;top:65.6px;font-size:98px;color:#fff;transform:scaleX(0.8188);font-weight:700;">O</span>
<span class="t" style="left:327.9px;top:65.6px;font-size:98px;color:#fff;transform:scaleX(0.8460);font-weight:700;">R</span>
<span class="t" style="left:393.6px;top:65.6px;font-size:98px;color:#fff;transform:scaleX(0.8934);font-weight:700;">D</span>
<span class="t" style="left:462.1px;top:65.6px;font-size:98px;color:#fff;transform:scaleX(0.8800);font-weight:700;">I</span>
<span class="t" style="left:489.0px;top:65.6px;font-size:98px;color:#fff;transform:scaleX(0.9239);font-weight:700;">A</span>
<span class="t" style="left:557.6px;top:65.6px;font-size:98px;color:#fff;transform:scaleX(0.9686);font-weight:700;">M</span>
<span class="t" style="left:710.8px;top:98.3px;font-size:49px;color:#fff;transform:scaleX(0.8742);font-weight:700;-webkit-text-stroke:0.6px #fff;">DASHBOARD</span>
<span class="t" style="left:1087.1px;top:98.3px;font-size:49px;color:#fff;transform:scaleX(0.8521);font-weight:700;-webkit-text-stroke:0.6px #fff;">STORIES</span>
<span class="t" style="left:1370.0px;top:98.3px;font-size:49px;color:#fff;transform:scaleX(0.8604);font-weight:700;-webkit-text-stroke:0.6px #fff;">TOPICS</span>
<span class="t" style="left:1626.0px;top:98.3px;font-size:49px;color:#fff;transform:scaleX(0.8139);font-weight:700;-webkit-text-stroke:0.6px #fff;">TASKS</span>
<span class="t" style="left:1860.1px;top:98.3px;font-size:49px;color:#fff;transform:scaleX(0.8424);font-weight:700;-webkit-text-stroke:0.6px #fff;">CALENDAR</span>
<span class="t" style="left:2857.8px;top:94.8px;font-size:49px;color:#fff;transform:scaleX(0.8413);font-weight:700;">STORY</span>
<span class="t" style="left:325.6px;top:251.1px;font-size:40px;color:#7c879f;transform:scaleX(0.9598);">Today</span>
<span class="t" style="left:703.4px;top:248.2px;font-size:47px;color:#1ea7f0;transform:scaleX(1.0774);-webkit-text-stroke:0.6px #1ea7f0;">Month</span>
<span class="t" style="left:953.0px;top:248.2px;font-size:47px;color:#1f2c50;transform:scaleX(0.9976);">October 2022</span>
<span class="t" style="left:2415.9px;top:251.7px;font-size:40px;color:#1ea7f0;transform:scaleX(0.9977);-webkit-text-stroke:0.8px #1ea7f0;">Story status</span>
<span class="t" style="left:2737.3px;top:251.7px;font-size:40px;color:#1ea7f0;transform:scaleX(1.0355);-webkit-text-stroke:0.8px #1ea7f0;">Publication time</span>
<span class="t" style="left:3196.1px;top:253.8px;font-size:40px;color:#7c879f;transform:scaleX(0.9596);-webkit-text-stroke:0.5px #7c879f;">Groups</span>
<span class="t" style="left:3417.4px;top:253.8px;font-size:40px;color:#7c879f;transform:scaleX(1.0556);-webkit-text-stroke:0.5px #7c879f;">Platforms</span>
<span class="t" style="left:3692.9px;top:253.8px;font-size:40px;color:#7c879f;transform:scaleX(1.0354);-webkit-text-stroke:0.5px #7c879f;">Filters</span>
<span class="t" style="left:99.0px;top:401.7px;font-size:52px;color:#101c40;transform:scaleX(0.9518);font-weight:700;">Story List</span>
<span class="t" style="left:430.9px;top:669.3px;font-size:54px;color:#fff;transform:scaleX(1.0352);-webkit-text-stroke:0.7px #fff;">Pitch</span>
<span class="t" style="left:714.0px;top:679.3px;font-size:38px;color:#66708b;transform:scaleX(1.0000);">3</span>
<span class="t" style="left:420.5px;top:820.6px;font-size:40px;color:#162250;transform:scaleX(0.9867);">Amtrak names a new chief executive, who will start</span>
<span class="t" style="left:418.9px;top:866.6px;font-size:40px;color:#162250;transform:scaleX(1.0064);">later this year</span>
<span class="t" style="left:1462.6px;top:824.1px;font-size:40px;color:#fff;transform:scaleX(0.9725);-webkit-text-stroke:1.1px #fff;">Give me perspective</span>
<span class="t" style="left:1907.0px;top:820.3px;font-size:41px;color:#111d45;transform:scaleX(0.8945);">Wed, Oct 19</span>
<span class="t" style="left:2244.0px;top:820.3px;font-size:41px;color:#111d45;transform:scaleX(1.0245);">Afternoon</span>
<span class="t" style="left:2760.4px;top:824.1px;font-size:40px;color:#4a458f;transform:scaleX(0.9646);">Business</span>
<span class="t" style="left:2597.5px;top:824.1px;font-size:40px;color:#46994f;transform:scaleX(1.0916);">Digital</span>
<span class="t" style="left:3127.4px;top:826.8px;font-size:40px;color:#0d1838;transform:scaleX(0.9770);">Amanda</span>
<span class="t" style="left:3398.9px;top:826.8px;font-size:40px;color:#0d1838;transform:scaleX(0.9349);">Susan</span>
<span class="t" style="left:1907.0px;top:925.3px;font-size:41px;color:#111d45;transform:scaleX(0.8945);">Wed, Oct 19</span>
<span class="t" style="left:2241.0px;top:925.3px;font-size:41px;color:#111d45;transform:scaleX(0.9919);">Evening</span>
<span class="t" style="left:2600.8px;top:929.1px;font-size:40px;color:#1ccdf0;transform:scaleX(1.0762);">Twitter</span>
<span class="t" style="left:3127.4px;top:931.8px;font-size:40px;color:#0d1838;transform:scaleX(0.9770);">Amanda</span>
<span class="t" style="left:3398.9px;top:931.8px;font-size:40px;color:#0d1838;transform:scaleX(0.9349);">Susan</span>
<span class="t" style="left:1907.0px;top:1030.3px;font-size:41px;color:#111d45;transform:scaleX(0.9391);">Thu, Oct 20</span>
<span class="t" style="left:2730.4px;top:1034.1px;font-size:40px;color:#4a458f;transform:scaleX(0.9646);">Business</span>
<span class="t" style="left:2597.5px;top:1034.1px;font-size:40px;color:#ffad42;transform:scaleX(1.0868);">Print</span>
<span class="t" style="left:3126.5px;top:1036.8px;font-size:40px;color:#0d1838;transform:scaleX(0.9349);">Susan</span>
<span class="t" style="left:417.1px;top:1194.6px;font-size:40px;color:#36425f;transform:scaleX(1.0169);">Mum of six running 2,000 miles marathon</span>
<span class="t" style="left:1461.5px;top:1198.1px;font-size:40px;color:#fff;transform:scaleX(0.9913);-webkit-text-stroke:1.1px #fff;">Inspire me</span>
<span class="t" style="left:1907.0px;top:1194.3px;font-size:41px;color:#111d45;transform:scaleX(0.8945);">Wed, Oct 19</span>
<span class="t" style="left:2244.0px;top:1194.3px;font-size:41px;color:#111d45;transform:scaleX(1.0245);">Afternoon</span>
<span class="t" style="left:2760.4px;top:1198.1px;font-size:40px;color:#1ccdf0;transform:scaleX(0.9535);">Local news</span>
<span class="t" style="left:2597.5px;top:1198.1px;font-size:40px;color:#46994f;transform:scaleX(1.0916);">Digital</span>
<span class="t" style="left:3127.4px;top:1200.8px;font-size:40px;color:#0d1838;transform:scaleX(0.9639);">Wendy</span>
<span class="t" style="left:3373.5px;top:1200.8px;font-size:40px;color:#0d1838;transform:scaleX(0.9770);">Amanda</span>
<span class="t" style="left:3643.0px;top:1200.8px;font-size:40px;color:#0d1838;transform:scaleX(0.9831);">Perry</span>
<span class="t" style="left:1907.0px;top:1299.3px;font-size:41px;color:#111d45;transform:scaleX(0.8945);">Wed, Oct 19</span>
<span class="t" style="left:2241.0px;top:1299.3px;font-size:41px;color:#111d45;transform:scaleX(0.9919);">Evening</span>
<span class="t" style="left:2600.8px;top:1303.1px;font-size:40px;color:#0f1b45;transform:scaleX(0.9711);">TikTok</span>
<span class="t" style="left:3127.4px;top:1305.8px;font-size:40px;color:#0d1838;transform:scaleX(0.9770);">Amanda</span>
<span class="t" style="left:417.4px;top:1464.6px;font-size:40px;color:#36425f;transform:scaleX(0.9440);">Portland Timbers vs. LA Galaxy 3:1</span>
<span class="t" style="left:418.3px;top:1510.6px;font-size:40px;color:#36425f;transform:scaleX(0.9627);">Goalie injured in the first half. Red card for LA Galaxy</span>
<span class="t" style="left:419.2px;top:1556.6px;font-size:40px;color:#36425f;transform:scaleX(1.0086);">star player.</span>
<span class="t" style="left:1461.6px;top:1468.1px;font-size:40px;color:#fff;transform:scaleX(0.9791);-webkit-text-stroke:1.1px #fff;">Keep me on trend</span>
<span class="t" style="left:1906.1px;top:1464.3px;font-size:41px;color:#111d45;transform:scaleX(0.9143);">Sun, Oct 23</span>
<span class="t" style="left:2241.0px;top:1464.3px;font-size:41px;color:#111d45;transform:scaleX(0.9919);">Evening</span>
<span class="t" style="left:2762.3px;top:1468.1px;font-size:40px;color:#1ca3f0;transform:scaleX(0.9876);">Sports</span>
<span class="t" style="left:2597.5px;top:1468.1px;font-size:40px;color:#46994f;transform:scaleX(1.0916);">Digital</span>
<span class="t" style="left:3127.4px;top:1470.8px;font-size:40px;color:#0d1838;transform:scaleX(0.9639);">Wendy</span>
<span class="t" style="left:3373.5px;top:1470.8px;font-size:40px;color:#0d1838;transform:scaleX(0.9770);">Amanda</span>
<span class="t" style="left:1904.1px;top:1569.3px;font-size:41px;color:#111d45;transform:scaleX(0.9671);">Mon, Oct 24</span>
<span class="t" style="left:2732.3px;top:1573.1px;font-size:40px;color:#1ca3f0;transform:scaleX(0.9876);">Sports</span>
<span class="t" style="left:2597.5px;top:1573.1px;font-size:40px;color:#ffad42;transform:scaleX(1.0868);">Print</span>
<span class="t" style="left:3124.5px;top:1575.8px;font-size:40px;color:#0d1838;transform:scaleX(0.9831);">Perry</span>
<span class="t" style="left:3344.5px;top:1575.8px;font-size:40px;color:#0d1838;transform:scaleX(0.9770);">Amanda</span>
<span class="t" style="left:433.6px;top:1771.3px;font-size:54px;color:#111d45;transform:scaleX(0.9653);-webkit-text-stroke:0.7px #111d45;">Accepted</span>
<span class="t" style="left:814.3px;top:1781.3px;font-size:38px;color:#66708b;transform:scaleX(1.0238);">4</span>
<span class="t" style="left:420.2px;top:1919.6px;font-size:40px;color:#162250;transform:scaleX(1.0071);">The top 4 collections inspired by 14th-century fashion</span>
<span class="t" style="left:419.3px;top:1965.6px;font-size:40px;color:#162250;transform:scaleX(0.9432);">discovered at New York Fashion Week</span>
<span class="t" style="left:1461.6px;top:1923.1px;font-size:40px;color:#fff;transform:scaleX(0.9791);-webkit-text-stroke:1.1px #fff;">Keep me on trend</span>
<span class="t" style="left:1907.0px;top:1919.3px;font-size:41px;color:#111d45;transform:scaleX(0.8945);">Wed, Oct 19</span>
<span class="t" style="left:2244.0px;top:1919.3px;font-size:41px;color:#111d45;transform:scaleX(1.0245);">Afternoon</span>
<span class="t" style="left:2761.3px;top:1923.1px;font-size:40px;color:#2382ba;transform:scaleX(1.0239);">Culture</span>
<span class="t" style="left:2597.5px;top:1923.1px;font-size:40px;color:#46994f;transform:scaleX(1.0916);">Digital</span>
<span class="t" style="left:3127.4px;top:1925.8px;font-size:40px;color:#0d1838;transform:scaleX(0.9639);">Wendy</span>
<span class="t" style="left:3370.1px;top:1925.8px;font-size:40px;color:#0d1838;transform:scaleX(1.1351);">Bill</span>
<span class="t" style="left:3553.7px;top:1925.8px;font-size:40px;color:#0d1838;transform:scaleX(0.9349);">Susan</span>
<span class="t" style="left:1907.0px;top:2024.3px;font-size:41px;color:#111d45;transform:scaleX(0.9391);">Thu, Oct 20</span>
<span class="t" style="left:2241.0px;top:2024.3px;font-size:41px;color:#111d45;transform:scaleX(0.9919);">Evening</span>
<span class="t" style="left:2600.8px;top:2028.1px;font-size:40px;color:#0f1b45;transform:scaleX(0.9711);">TikTok</span>
<span class="t" style="left:3124.0px;top:2030.8px;font-size:40px;color:#0d1838;transform:scaleX(1.1351);">Bill</span>
<span class="t" style="left:417.2px;top:2188.6px;font-size:40px;color:#36425f;transform:scaleX(1.0035);">National public transportation crisis. The shortage of</span>
<span class="t" style="left:418.2px;top:2234.6px;font-size:40px;color:#36425f;transform:scaleX(0.9894);">bus drivers is causing problems for public transport</span>
<span class="t" style="left:418.2px;top:2280.6px;font-size:40px;color:#36425f;transform:scaleX(0.9922);">users.</span>
<span class="t" style="left:1462.6px;top:2192.1px;font-size:40px;color:#fff;transform:scaleX(0.9725);-webkit-text-stroke:1.1px #fff;">Give me perspective</span>
<span class="t" style="left:1907.0px;top:2188.3px;font-size:41px;color:#111d45;transform:scaleX(0.9391);">Thu, Oct 20</span>
<span class="t" style="left:2240.8px;top:2188.3px;font-size:41px;color:#111d45;transform:scaleX(1.0536);">Morning</span>
<span class="t" style="left:2760.4px;top:2192.1px;font-size:40px;color:#4a458f;transform:scaleX(0.9646);">Business</span>
<span class="t" style="left:2597.5px;top:2192.1px;font-size:40px;color:#46994f;transform:scaleX(1.0916);">Digital</span>
<span class="t" style="left:3124.5px;top:2194.8px;font-size:40px;color:#0d1838;transform:scaleX(0.9831);">Perry</span>
<span class="t" style="left:1906.1px;top:2293.3px;font-size:41px;color:#111d45;transform:scaleX(0.9259);">Sat, Oct 22</span>
<span class="t" style="left:2597.7px;top:2297.1px;font-size:40px;color:#ff5a65;transform:scaleX(1.0500);">Newsletter</span>
<span class="t" style="left:3124.5px;top:2299.8px;font-size:40px;color:#0d1838;transform:scaleX(0.9831);">Perry</span>
<span class="t" style="left:420.2px;top:2457.6px;font-size:40px;color:#36425f;transform:scaleX(0.9800);">What we can learn from the Dutch. Why riding your bike</span>
<span class="t" style="left:418.2px;top:2503.6px;font-size:40px;color:#36425f;transform:scaleX(1.0119);">is better for your health and the environment.</span>
<span class="t" style="left:1461.6px;top:2461.1px;font-size:40px;color:#16224a;transform:scaleX(0.9674);-webkit-text-stroke:0.6px #16224a;">Educate me</span>
<span class="t" style="left:1907.0px;top:2457.3px;font-size:41px;color:#111d45;transform:scaleX(0.9391);">Thu, Oct 20</span>
<span class="t" style="left:2240.8px;top:2457.3px;font-size:41px;color:#111d45;transform:scaleX(1.0536);">Morning</span>
<span class="t" style="left:2761.3px;top:2461.1px;font-size:40px;color:#2382ba;transform:scaleX(1.0239);">Culture</span>
<span class="t" style="left:2597.5px;top:2461.1px;font-size:40px;color:#46994f;transform:scaleX(1.0916);">Digital</span>
<span class="t" style="left:3126.5px;top:2463.8px;font-size:40px;color:#0d1838;transform:scaleX(0.9349);">Susan</span>
<span class="t" style="left:3353.6px;top:2463.8px;font-size:40px;color:#0d1838;transform:scaleX(0.9831);">Perry</span>
<span class="t" style="left:3573.6px;top:2463.8px;font-size:40px;color:#0d1838;transform:scaleX(0.9639);">Wendy</span>
<span class="t" style="left:1904.3px;top:2562.3px;font-size:41px;color:#111d45;transform:scaleX(0.9037);">Fri, Oct 21</span>
<span class="t" style="left:2731.3px;top:2566.1px;font-size:40px;color:#2382ba;transform:scaleX(1.0239);">Culture</span>
<span class="t" style="left:2597.5px;top:2566.1px;font-size:40px;color:#ffad42;transform:scaleX(1.0868);">Print</span>
<span class="t" style="left:3124.5px;top:2568.8px;font-size:40px;color:#0d1838;transform:scaleX(0.9831);">Perry</span>
<span class="t" style="left:3344.5px;top:2568.8px;font-size:40px;color:#0d1838;transform:scaleX(0.9639);">Wendy</span>
<span class="t" style="left:417.3px;top:2726.6px;font-size:40px;color:#36425f;transform:scaleX(0.9475);">Rings of Power, House of Dragon, The Sandman –</span>
<span class="t" style="left:418.1px;top:2772.6px;font-size:40px;color:#36425f;transform:scaleX(1.0067);">leading women in the fantasy world</span>
<span class="t" style="left:1461.4px;top:2730.1px;font-size:40px;color:#fff;transform:scaleX(1.0211);-webkit-text-stroke:1.1px #fff;">Divert me</span>
<span class="t" style="left:1906.1px;top:2726.3px;font-size:41px;color:#111d45;transform:scaleX(0.9143);">Sun, Oct 23</span>
<span class="t" style="left:2240.8px;top:2726.3px;font-size:41px;color:#111d45;transform:scaleX(1.0536);">Morning</span>
<span class="t" style="left:2761.3px;top:2730.1px;font-size:40px;color:#2382ba;transform:scaleX(1.0239);">Culture</span>
<span class="t" style="left:2597.5px;top:2730.1px;font-size:40px;color:#46994f;transform:scaleX(1.0916);">Digital</span>
<span class="t" style="left:3124.4px;top:2732.8px;font-size:40px;color:#0d1838;transform:scaleX(1.0060);">David</span>
<span class="t" style="left:3351.1px;top:2732.8px;font-size:40px;color:#0d1838;transform:scaleX(0.9639);">Wendy</span>
<span class="t" style="left:1906.1px;top:2831.3px;font-size:41px;color:#111d45;transform:scaleX(0.9143);">Sun, Oct 23</span>
<span class="t" style="left:2240.8px;top:2831.3px;font-size:41px;color:#111d45;transform:scaleX(1.0536);">Morning</span>
<span class="t" style="left:2600.8px;top:2835.1px;font-size:40px;color:#1ccdf0;transform:scaleX(1.0762);">Twitter</span>
<span class="t" style="left:3124.4px;top:2837.8px;font-size:40px;color:#0d1838;transform:scaleX(1.0060);">David</span>
<span class="t" style="left:3351.1px;top:2837.8px;font-size:40px;color:#0d1838;transform:scaleX(0.9639);">Wendy</span>
<span class="t" style="left:1906.1px;top:2936.3px;font-size:41px;color:#111d45;transform:scaleX(0.9143);">Sun, Oct 23</span>
<span class="t" style="left:2244.0px;top:2936.3px;font-size:41px;color:#111d45;transform:scaleX(1.0245);">Afternoon</span>
<span class="t" style="left:2600.8px;top:2940.1px;font-size:40px;color:#0f1b45;transform:scaleX(0.9711);">TikTok</span>
<span class="t" style="left:3124.4px;top:2942.8px;font-size:40px;color:#0d1838;transform:scaleX(1.0060);">David</span>
<span class="t" style="left:414.2px;top:532.8px;font-size:40px;color:#111d45;transform:scaleX(1.0363);">Description</span>
<span class="t" style="left:1439.4px;top:532.8px;font-size:40px;color:#111d45;transform:scaleX(0.9519);">User needs</span>
<span class="t" style="left:1899.9px;top:532.8px;font-size:40px;color:#111d45;transform:scaleX(1.0225);">Publication date</span>
<span class="t" style="left:2236.7px;top:532.8px;font-size:40px;color:#111d45;transform:scaleX(1.0445);">Publication time</span>
<span class="t" style="left:2571.4px;top:532.8px;font-size:40px;color:#111d45;transform:scaleX(1.0635);">Platforms</span>
<span class="t" style="left:3039.3px;top:532.8px;font-size:40px;color:#111d45;transform:scaleX(0.9217);">Tasks</span>
<svg style="left:190.0px;top:65.0px" width="460.0" height="100.0" viewBox="0 0 2156 468.7">
<polygon points="106,140 160,140 160,176 122,213 106,213" fill="#0a1c43"/>
<path d="M247 75 H316 Q330 76 322 88 L190 224 Q170 205 158 192 Q150 182 160 170 Z" fill="#6a62ff"/>
<polygon points="1516,254 1594,254 1617,324 1493,324" fill="#0a1c43"/>
<rect x="1814" y="68" width="190" height="330" fill="#0a1c43"/>
<polygon points="1988,75 2006,75 2006,186 1958,246 1910,203" fill="#fff"/>
<path d="M1750 75 H1815 L1912 203 L1962 246 Q1925 284 1882 260 L1750 94 Z" fill="#6a62ff"/>
</svg>
</body></html>
